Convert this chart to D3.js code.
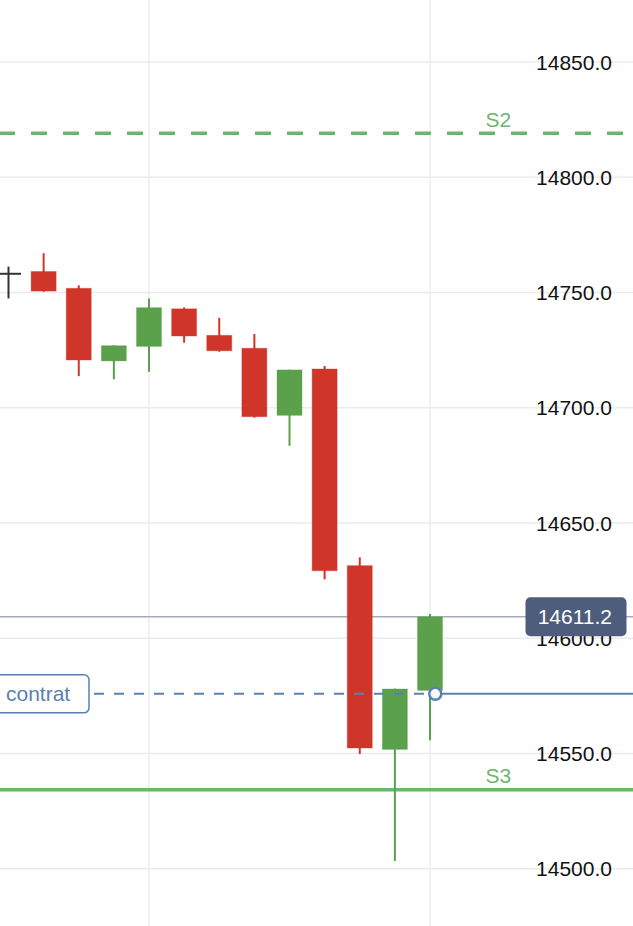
<!DOCTYPE html>
<html>
<head>
<meta charset="utf-8">
<script src="https://cdn.jsdelivr.net/npm/d3@7"></script>
<style>
  html, body { margin: 0; padding: 0; background: #fff; }
  svg { display: block; }
  text { font-family: "Liberation Sans", Arial, Helvetica, sans-serif; }
</style>
</head>
<body>
<svg id="chart" width="633" height="926"></svg>
<script>
// ---- data ----
const candleIndex = [0, 1, 2, 3, 4, 5, 6, 7, 8, 9, 10, 11, 12];
const openValues  = [14757.9, 14758.9, 14751.6, 14720.1, 14726.4, 14742.7, 14731.2, 14725.6, 14696.5, 14716.6, 14631.3, 14551.6, 14577.2];
const highValues  = [14761.0, 14766.8, 14752.9, 14726.9, 14747.2, 14743.3, 14738.8, 14731.8, 14716.3, 14717.9, 14634.9, 14578.0, 14610.3];
const lowValues   = [14747.2, 14750.1, 14713.5, 14712.1, 14715.4, 14728.0, 14724.1, 14695.5, 14683.3, 14625.4, 14549.6, 14503.2, 14555.6];
const closeValues = [14757.9, 14750.4, 14720.5, 14726.7, 14743.2, 14730.9, 14724.5, 14695.9, 14716.2, 14629.1, 14552.2, 14577.8, 14609.1];
const yTickValues = [14500, 14550, 14600, 14650, 14700, 14750, 14800, 14850];
const xGridIndex  = [4, 12];
const levelNames  = ["S2", "S3"];
const levelValues = [14818.8, 14534.1];
const contractLabel = "contrat";
const contractValue = 14575.7;
const contractMarkerIndex = 12.15;
const lastPriceLabel = "14611.2";

// ---- layout ----
const W = 633, H = 926;
const svg = d3.select("#chart");
const y = d3.scaleLinear().domain([14475.0, 14876.65]).range([H, 0]);
const x = d3.scaleLinear().domain([0, 12]).range([8.5, 430]);
const fmt = d3.format(".1f");

const RED = "#cf3529", GREEN = "#5ba04a", DOJI = "#333333";
const LEVEL_GREEN = "#6db56d";
const BLUE = "#5a80b1";

// grid (horizontal) via axis
const gridY = d3.axisLeft(y).tickValues(yTickValues).tickSize(-W).tickFormat("");
svg.append("g").call(gridY)
  .call(g => g.select(".domain").remove())
  .call(g => g.selectAll("line").attr("stroke", "#ebebeb").attr("stroke-width", 1.5))
  .call(g => g.selectAll("line").attr("x1", 0).attr("x2", W));

// vertical grid
svg.append("g").selectAll("line").data(xGridIndex).join("line")
  .attr("x1", d => x(d)).attr("x2", d => x(d))
  .attr("y1", 0).attr("y2", H)
  .attr("stroke", "#ececec").attr("stroke-width", 1.5);

// y tick labels
const axisR = d3.axisRight(y).tickValues(yTickValues).tickSize(0).tickFormat(fmt);
svg.append("g").attr("transform", `translate(612,0)`).call(axisR)
  .call(g => g.select(".domain").remove())
  .call(g => g.selectAll("text")
    .attr("x", 0).attr("dy", "0.36em")
    .attr("text-anchor", "end")
    .attr("fill", "#111")
    .style("font-size", "21px")
    .style("font-family", '"Liberation Sans", Arial, Helvetica, sans-serif'));

// support levels
const lev = svg.append("g");
levelValues.forEach((v, i) => {
  lev.append("line")
    .attr("x1", 0).attr("x2", W)
    .attr("y1", y(v)).attr("y2", y(v))
    .attr("stroke", LEVEL_GREEN).attr("stroke-width", 3.5)
    .attr("stroke-dasharray", i === 0 ? "16,16" : null)
    .attr("stroke-dashoffset", i === 0 ? 1 : 0);
  lev.append("text")
    .attr("x", 485.5).attr("y", y(v) - 6.5)
    .attr("fill", LEVEL_GREEN)
    .style("font-size", "21px")
    .text(levelNames[i]);
});

// last price line
const lastClose = closeValues[closeValues.length - 1];
svg.append("line")
  .attr("x1", 0).attr("x2", W)
  .attr("y1", y(lastClose)).attr("y2", y(lastClose))
  .attr("stroke", "#a3abb9").attr("stroke-width", 1.5);

// candles
const candles = candleIndex.map((d, i) => ({
  i: d, o: openValues[i], h: highValues[i], l: lowValues[i], c: closeValues[i]
}));
const colorOf = d => d.c > d.o ? GREEN : (d.c < d.o ? RED : DOJI);
const bodyW = 25;
const cg = svg.append("g");
cg.selectAll("line.wick").data(candles).join("line")
  .attr("class", "wick")
  .attr("x1", d => x(d.i)).attr("x2", d => x(d.i))
  .attr("y1", d => y(d.h)).attr("y2", d => y(d.l))
  .attr("stroke", colorOf).attr("stroke-width", 2);
cg.selectAll("rect.body").data(candles.filter(d => d.o !== d.c)).join("rect")
  .attr("class", "body")
  .attr("x", d => x(d.i) - bodyW / 2)
  .attr("width", bodyW)
  .attr("y", d => y(Math.max(d.o, d.c)))
  .attr("height", d => Math.max(1, y(Math.min(d.o, d.c)) - y(Math.max(d.o, d.c))))
  .attr("fill", colorOf)
  .attr("stroke", colorOf).attr("stroke-opacity", 0.35).attr("stroke-width", 1);
cg.selectAll("line.doji").data(candles.filter(d => d.o === d.c)).join("line")
  .attr("class", "doji")
  .attr("x1", d => x(d.i) - 12.5).attr("x2", d => x(d.i) + 12.5)
  .attr("y1", d => y(d.o)).attr("y2", d => y(d.o))
  .attr("stroke", DOJI).attr("stroke-width", 2);

// contract line
const cy = y(contractValue), cx = x(contractMarkerIndex);
svg.append("line")
  .attr("x1", 89).attr("x2", cx)
  .attr("y1", cy).attr("y2", cy)
  .attr("stroke", BLUE).attr("stroke-width", 2)
  .attr("stroke-dasharray", "10,10").attr("stroke-dashoffset", 15);
svg.append("line")
  .attr("x1", cx).attr("x2", W)
  .attr("y1", cy).attr("y2", cy)
  .attr("stroke", BLUE).attr("stroke-width", 2);
svg.append("circle")
  .attr("cx", cx).attr("cy", cy).attr("r", 6)
  .attr("fill", "#fff").attr("stroke", BLUE).attr("stroke-width", 2.5);

// contract label box
svg.append("rect")
  .attr("x", -10).attr("y", cy - 19).attr("width", 99).attr("height", 38)
  .attr("rx", 5).attr("ry", 5)
  .attr("fill", "#fff").attr("stroke", BLUE).attr("stroke-width", 1.5);
svg.append("text")
  .attr("x", 6).attr("y", cy).attr("dy", "0.36em")
  .attr("fill", BLUE)
  .style("font-size", "21px")
  .text(contractLabel);

// last price tag
svg.append("rect")
  .attr("x", 525.5).attr("y", y(lastClose) - 19.5).attr("width", 101).attr("height", 39)
  .attr("rx", 5).attr("ry", 5)
  .attr("fill", "#4d5d7b");
svg.append("text")
  .attr("x", 612).attr("y", y(lastClose)).attr("dy", "0.36em")
  .attr("text-anchor", "end")
  .attr("fill", "#fff")
  .style("font-size", "21px")
  .text(lastPriceLabel);
</script>
</body>
</html>
